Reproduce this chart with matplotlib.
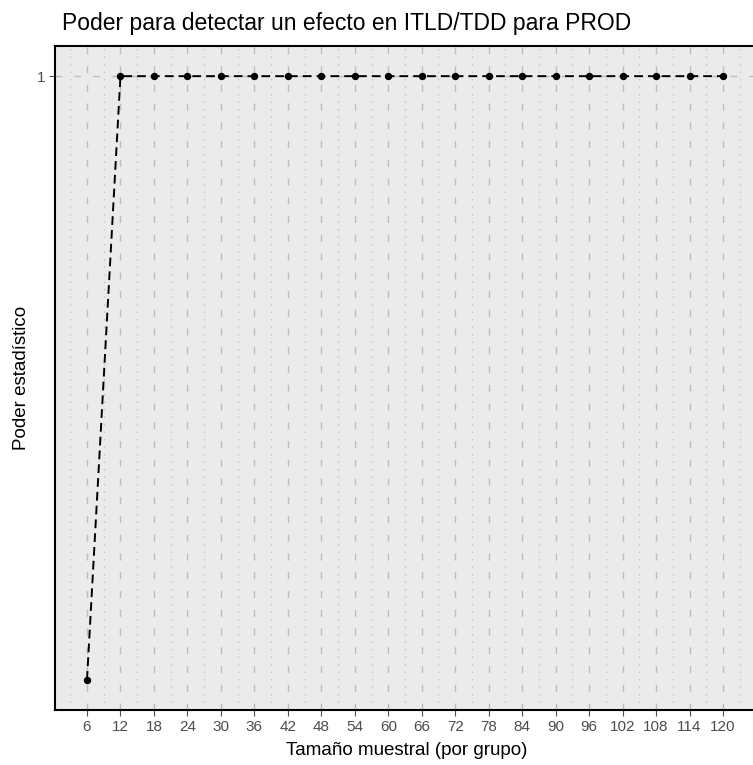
import matplotlib.pyplot as plt
import numpy as np

# tamaño muestral por grupo y poder estadístico estimado
n_grupo = [6, 12, 18, 24, 30, 36, 42, 48, 54, 60, 66, 72, 78, 84, 90, 96, 102, 108, 114, 120]
poder = [0.9999, 1, 1, 1, 1, 1, 1, 1, 1, 1, 1, 1, 1, 1, 1, 1, 1, 1, 1, 1]

titulo = "Poder para detectar un efecto en ITLD/TDD para PROD"
etiqueta_x = "Tamaño muestral (por grupo)"
etiqueta_y = "Poder estadístico"


def main():
    plt.rcParams["font.family"] = ["Liberation Sans", "DejaVu Sans"]

    fig = plt.figure(figsize=(7.53, 7.65), dpi=100)
    ax = fig.add_axes([0.0733, 0.0719, 0.9291, 0.868])
    ax.set_facecolor("#EBEBEB")

    # rejilla: mayor discontinua, menor punteada
    xs = np.array(n_grupo)
    menores = np.append(xs - 3, xs[-1] + 3)
    for xm in menores:
        ax.axvline(xm, color="#C6C6C6", lw=1.0, dashes=(1.1, 4.3), zorder=0.5)
    for xM in xs:
        ax.axvline(xM, color="#BDBDBD", lw=1.0, dashes=(5.0, 8.5), zorder=0.6)
    ax.axhline(1, color="#BDBDBD", lw=1.0, dashes=(5.0, 8.5), zorder=0.6)

    ax.plot(n_grupo, poder, color="black", lw=1.4, dashes=(4.5, 2.6),
            marker="o", markersize=4.3, zorder=3)

    ymin, ymax = min(poder), max(poder)
    pad = (ymax - ymin) * 0.05
    ax.set_ylim(ymin - pad, ymax + pad)
    ax.set_xlim(0.3, 125.7)

    ax.set_xticks(n_grupo)
    ax.set_xticklabels([str(v) for v in n_grupo])
    ax.set_yticks([1])
    ax.set_yticklabels(["1"])
    ax.tick_params(axis="both", length=4, width=0.8, color="#4D4D4D",
                   labelcolor="#4D4D4D", labelsize=11, pad=3)

    for s in ax.spines.values():
        s.set_color("black")
        s.set_linewidth(1.5)

    fig.text(62 / 753, 1 - 30 / 765, titulo, fontsize=16.5, ha="left", va="baseline")
    fig.text(407 / 753, 1 - 755 / 765, etiqueta_x, fontsize=13.5, ha="center", va="baseline")
    fig.text(30 / 753, 1 - 378 / 765, etiqueta_y, fontsize=13.5, rotation=90,
             ha="right", va="center")

    fig.savefig("out.png", dpi=100)


if __name__ == "__main__":
    main()
